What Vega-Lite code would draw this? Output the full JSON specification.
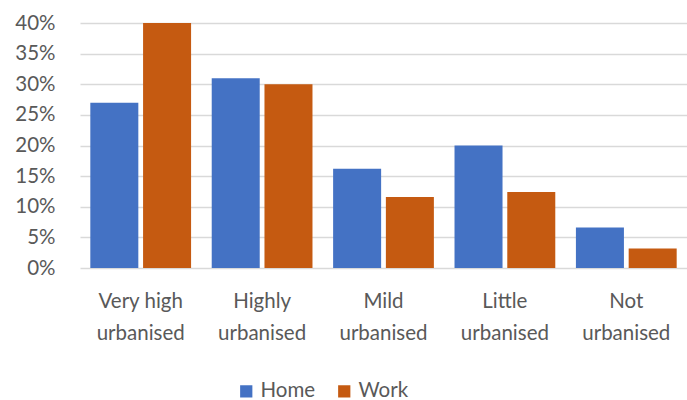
{
  "$schema": "https://vega.github.io/schema/vega-lite/v6.json",
  "width": 607,
  "height": 245,
  "autosize": "none",
  "padding": {"left": 80, "top": 23, "right": 0, "bottom": 132},
  "background": "white",
  "config": {
    "font": "Lato",
    "view": {"stroke": null}
  },
  "data": {
    "values": [
      {"area": "Very high urbanised", "type": "Home", "share": 0.27},
      {"area": "Very high urbanised", "type": "Work", "share": 0.40},
      {"area": "Highly urbanised", "type": "Home", "share": 0.31},
      {"area": "Highly urbanised", "type": "Work", "share": 0.30},
      {"area": "Mild urbanised", "type": "Home", "share": 0.162},
      {"area": "Mild urbanised", "type": "Work", "share": 0.116},
      {"area": "Little urbanised", "type": "Home", "share": 0.20},
      {"area": "Little urbanised", "type": "Work", "share": 0.124},
      {"area": "Not urbanised", "type": "Home", "share": 0.066},
      {"area": "Not urbanised", "type": "Work", "share": 0.032}
    ]
  },
  "mark": {"type": "bar"},
  "encoding": {
    "x": {
      "field": "area",
      "type": "nominal",
      "sort": null,
      "scale": {"paddingInner": 0.17, "paddingOuter": 0.085},
      "axis": {
        "title": null,
        "labelAngle": 0,
        "domain": false,
        "ticks": false,
        "labelExpr": "split(datum.label, ' ')[0] == 'Very' ? ['Very high', 'urbanised'] : split(datum.label, ' ')",
        "labelFontSize": 20.5,
        "labelColor": "#595959",
        "labelLineHeight": 32,
        "labelPadding": 23,
        "labelBaseline": "top"
      }
    },
    "xOffset": {
      "field": "type",
      "type": "nominal",
      "scale": {"paddingInner": 0.09}
    },
    "y": {
      "field": "share",
      "type": "quantitative",
      "scale": {"domain": [0, 0.4]},
      "axis": {
        "title": null,
        "format": ".0%",
        "values": [0, 0.05, 0.1, 0.15, 0.2, 0.25, 0.3, 0.35, 0.4],
        "labelOverlap": false,
        "domain": false,
        "ticks": false,
        "gridColor": "#D9D9D9",
        "gridWidth": 1.3,
        "labelFontSize": 20.5,
        "labelColor": "#595959",
        "labelPadding": 25
      }
    },
    "color": {
      "field": "type",
      "type": "nominal",
      "scale": {"domain": ["Home", "Work"], "range": ["#4472C4", "#C55A11"]},
      "legend": {
        "title": null,
        "orient": "none",
        "direction": "horizontal",
        "legendX": 156,
        "legendY": 358,
        "symbolType": "square",
        "symbolSize": 150,
        "symbolStrokeWidth": 0,
        "labelFontSize": 20.5,
        "labelColor": "#595959",
        "columnPadding": 18,
        "labelOffset": 4
      }
    }
  }
}
